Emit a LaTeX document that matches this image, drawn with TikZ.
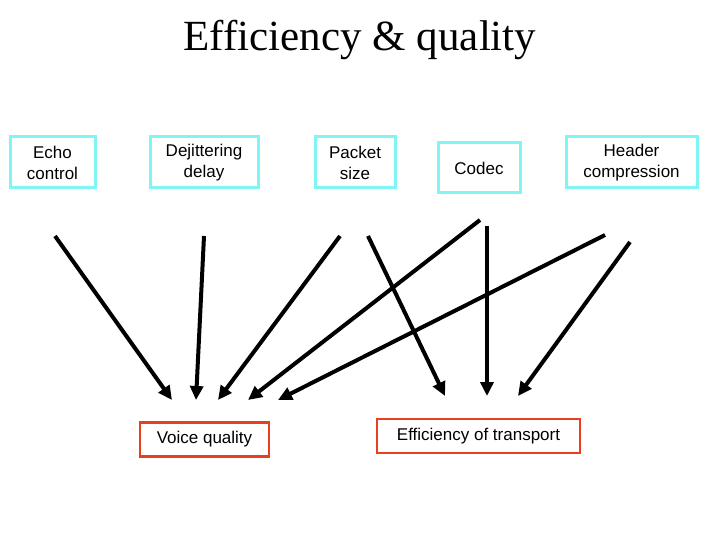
\documentclass[tikz,border=0pt]{standalone}
\usepackage{fontspec}
\setmainfont{Liberation Serif}
\newfontfamily\arial{Liberation Sans}
\usetikzlibrary{arrows.meta}
\definecolor{cy}{HTML}{7FF5F5}
\definecolor{rd}{HTML}{E8401C}
\begin{document}
\begin{tikzpicture}[x=1pt,y=-1pt,
  cbox/.style={draw=cy,line width=3pt,font=\arial\fontsize{17}{21}\selectfont,align=center,inner sep=0pt,minimum height=51pt},
  rbox/.style={draw=rd,line width=2.5pt,font=\arial\fontsize{17}{21}\selectfont,inner sep=0pt,minimum height=34pt,text height=12pt,text depth=4pt},
  arr/.style={line width=4pt,-{Triangle[length=14pt,width=13pt]}}]
\useasboundingbox (0,0) rectangle (720,540);
\node[font=\fontsize{43}{47}\selectfont] (t) at (360,40) {Efficiency \& quality};
\node[cbox,minimum width=85pt] (e) at (52.5,162.5) {Echo\\control};
\node[cbox,minimum width=108pt] (d) at (204,162.5) {Dejittering\\delay};
\node[cbox,minimum width=80pt] (p) at (355,162.5) {Packet\\size};
\node[cbox,minimum width=82pt,minimum height=50pt] (c) at (479,168) {Codec};
\node[cbox,minimum width=131pt] (h) at (631.5,162.5) {Header\\compression};
\node[rbox,minimum width=129pt] (v) at (204.5,439.5) {Voice quality};
\node[rbox,minimum width=203pt] (f) at (478.5,436) {Efficiency of transport};
\coordinate (a1) at (55,236); \coordinate (b1) at (172,400);
\coordinate (a2) at (204,236); \coordinate (b2) at (196,400);
\coordinate (a3) at (340,236); \coordinate (b3) at (218,400);
\coordinate (a4) at (480,220); \coordinate (b4) at (248,400);
\coordinate (a5) at (605,235); \coordinate (b5) at (278,400);
\coordinate (a6) at (368,236); \coordinate (b6) at (445,396);
\coordinate (a7) at (487,226); \coordinate (b7) at (487,396);
\coordinate (a8) at (630,242); \coordinate (b8) at (518,396);
\foreach \i in {1,...,8} \draw[arr] (a\i) -- (b\i);
\end{tikzpicture}
\end{document}
